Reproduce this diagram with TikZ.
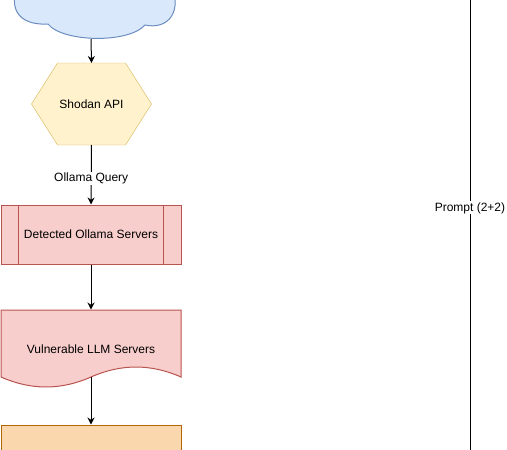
\documentclass[tikz,border=0pt]{standalone}
\usepackage{fontspec}
\setmainfont{Liberation Sans}
\usetikzlibrary{arrows.meta,backgrounds}
\definecolor{cloudfill}{HTML}{DAE8FC}
\definecolor{clouddraw}{HTML}{6C8EBF}
\definecolor{hexfill}{HTML}{FFF2CC}
\definecolor{hexdraw}{HTML}{D6B656}
\definecolor{redfill}{HTML}{F8CECC}
\definecolor{reddraw}{HTML}{B85450}
\definecolor{orangefill}{HTML}{FAD7AC}
\definecolor{orangedraw}{HTML}{B46504}
\tikzset{
  box/.style={minimum width=180pt, inner sep=0pt, font=\fontsize{12}{14}\selectfont},
  flow/.style={-{Stealth[length=7pt,width=7pt]}, line width=1pt},
  lbl/.style={fill=white, inner sep=1pt, font=\fontsize{12}{14}\selectfont}
}
\begin{document}
\begin{tikzpicture}[x=1pt, y=-1pt, line width=1pt]
  \useasboundingbox (0,0) rectangle (507,450);
  % cloud, cut at the top edge
  \draw[fill=cloudfill, draw=clouddraw]
    (22,-20) .. controls (10,-5) and (8,26) .. (48,24)
    .. controls (62,42) and (128,44) .. (145,25)
    .. controls (168,30) and (184,12) .. (170,-20) -- cycle;
  \coordinate (cb) at (91,39);
  % hexagon
  \node[box, minimum width=119pt, minimum height=81pt] (api) at (91.5,104) {Shodan API};
  \begin{scope}[on background layer]
    \draw[fill=hexfill, draw=hexdraw] (api.west) -- ([xshift=26pt]api.north west)
      -- ([xshift=-26pt]api.north east) -- (api.east)
      -- ([xshift=-26pt]api.south east) -- ([xshift=26pt]api.south west) -- cycle;
  \end{scope}
  % process box
  \node[box, minimum height=59pt, fill=redfill, draw=reddraw] (srv) at (91,234.5) {Detected Ollama Servers};
  \draw[reddraw] ([xshift=18pt]srv.north west) -- ([xshift=18pt]srv.south west)
    ([xshift=-18pt]srv.north east) -- ([xshift=-18pt]srv.south east);
  % document
  \draw[fill=redfill, draw=reddraw] (1,310) -- (181,310) -- (181,377)
    .. controls (151,363.7) and (121,363.7) .. (91,377)
    .. controls (61,390.3) and (31,390.3) .. (1,377) -- cycle;
  \node[box, minimum height=78pt] (vuln) at (91,349) {Vulnerable LLM Servers};
  \coordinate (vb) at (91,377);
  % next box, cut at the bottom edge
  \node[box, minimum height=60pt, fill=orangefill, draw=orangedraw] (next) at (91,455) {};
  % prompt line
  \coordinate (p1) at (470,0);
  \coordinate (p2) at (470,450);
  \begin{scope}
    \draw[flow] (cb) to (api.north);
    \draw[flow] (api.south) to node[lbl, pos=0.56] {Ollama Query} (srv.north);
    \draw[flow] (srv.south) to (vuln.north);
    \draw[flow] (vb) to (next.north);
    \draw (p1) to node[lbl, pos=0.462] {Prompt (2+2)} (p2);
  \end{scope}
\end{tikzpicture}
\end{document}
